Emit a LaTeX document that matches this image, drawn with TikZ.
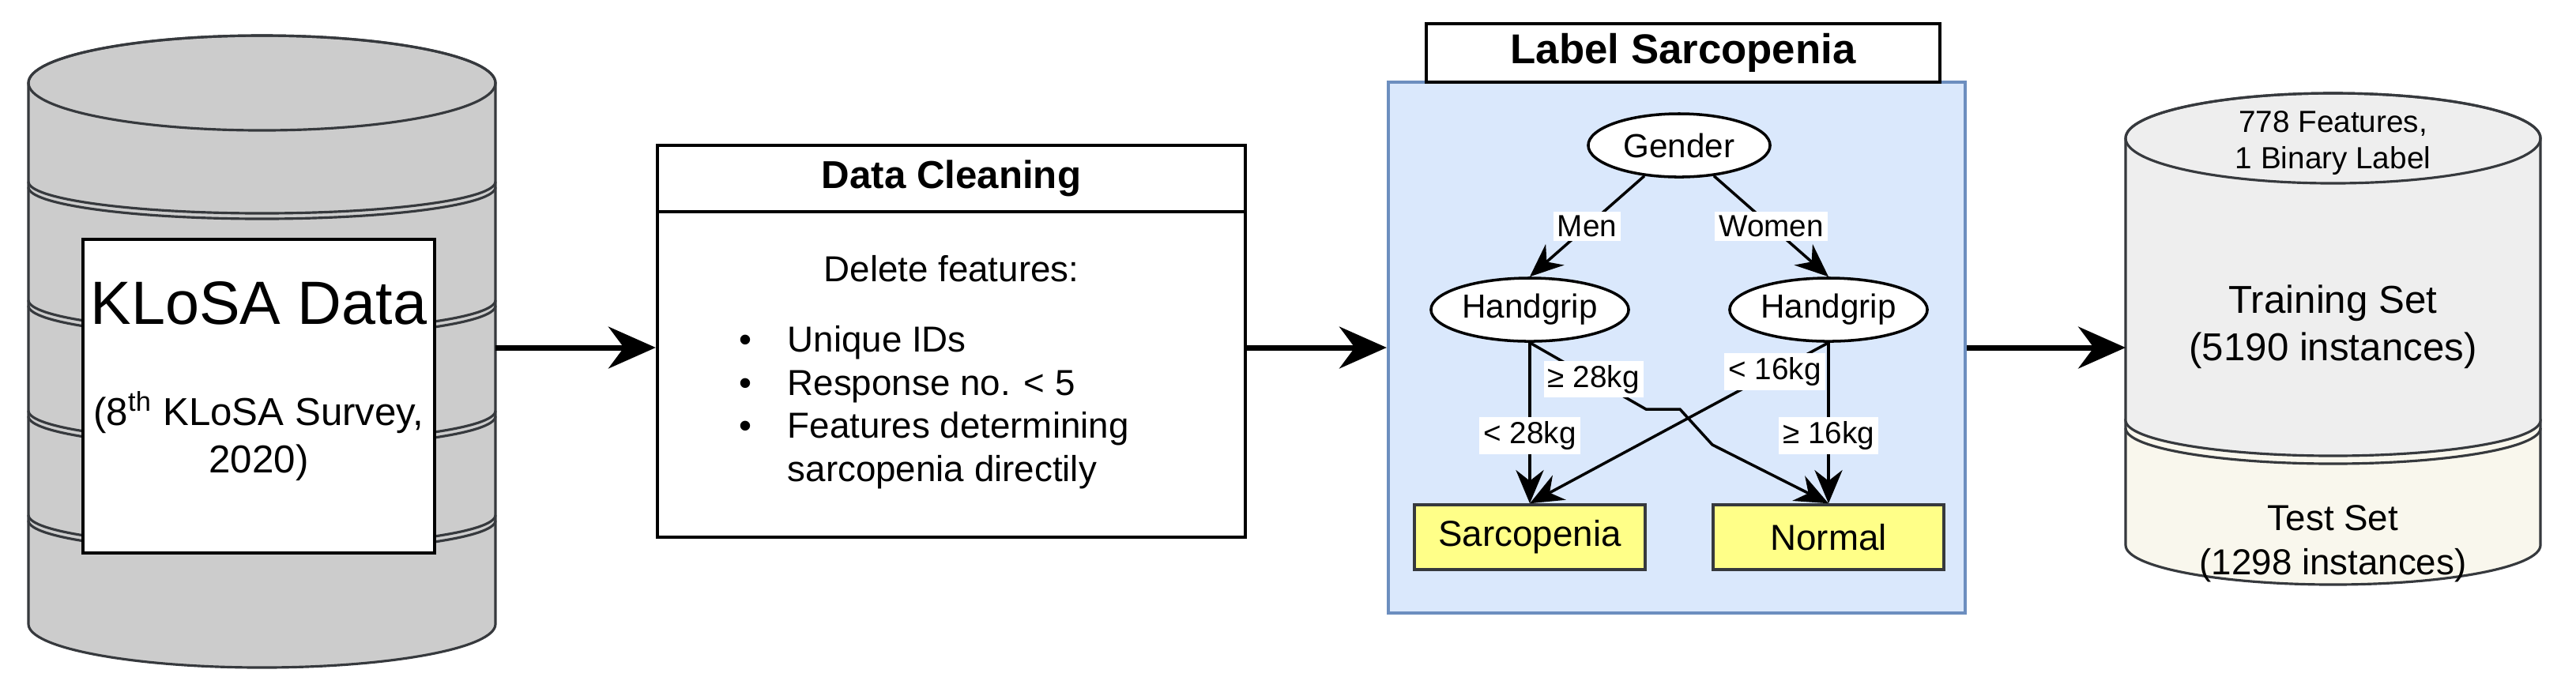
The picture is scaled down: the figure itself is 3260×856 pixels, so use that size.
\documentclass[tikz,border=0pt]{standalone}
\usepackage{fontspec}
\setmainfont{Liberation Sans}
\usetikzlibrary{arrows.meta,calc,shapes,positioning}

\definecolor{edgegray}{HTML}{36393D}
\definecolor{cylgray}{HTML}{CCCCCC}
\definecolor{trainfill}{HTML}{EEEEEE}
\definecolor{testfill}{HTML}{F9F7ED}
\definecolor{labelblue}{HTML}{DAE8FC}
\definecolor{labelline}{HTML}{6C8EBF}
\definecolor{classyellow}{HTML}{FFFF88}

\begin{document}
\begin{tikzpicture}[
    x=0.01cm, y=-0.01cm,
    box/.style={rectangle, draw, line width=1.1pt, fill=white, inner sep=0pt},
    decision/.style={ellipse, draw, line width=1pt, fill=white, minimum width=2.3cm, minimum height=0.8cm, inner sep=0pt, font=\fontsize{12}{14}\selectfont},
    leaf/.style={rectangle, draw=edgegray, line width=1pt, fill=classyellow, minimum width=2.92cm, minimum height=0.82cm, font=\fontsize{13}{15}\selectfont},
    cond/.style={fill=white, inner sep=1.5pt, font=\fontsize{11}{13}\selectfont},
    line/.style={draw, line width=1pt, -{Stealth[length=12pt, width=10pt]}},
    flow/.style={draw, line width=2pt, -{Stealth[length=17pt, width=15pt]}},
    cyl/.style={draw=edgegray, line width=0.9pt}
]
\useasboundingbox (0,0) rectangle (3260,856);

% Source cylinder
\path[cyl, fill=cylgray] (36,105) -- (36,790) arc (180:0:295.5 and 55) -- (627,105) arc (0:-180:295.5 and 60) -- cycle;
\draw[cyl] (331.5,105) ellipse (295.5 and 60);
\foreach \y in {230,380,520,652} {
    \draw[cyl] (36,\y) arc (180:0:295.5 and 40);
    \draw[cyl] (36,\y+7) arc (180:0:295.5 and 40);
}
\coordinate (src) at (627,440);
\node[box, minimum width=4.45cm, minimum height=3.97cm] (klosa) at (327.5,501.5) {};
\node[font=\fontsize{22}{26}\selectfont] (klosatitle) at (327.5,384) {KLoSA Data};
\node[align=center, font=\fontsize{14}{17}\selectfont] (survey) at (327.5,552) {(8\textsuperscript{th} KLoSA Survey,\\2020)};

% Data cleaning
\node[box, minimum width=7.44cm, minimum height=4.96cm] (clean) at (1204,432) {};
\draw[line width=1.1pt] (832,268) -- (1576,268);
\node[font=\bfseries\fontsize{14}{17}\selectfont] (cleantitle) at (1204,226) {Data Cleaning};
\node[font=\fontsize{13}{16}\selectfont] (delete) at (1204,340) {Delete features:};
\node[anchor=north west, align=left, font=\fontsize{13}{15.5}\selectfont, inner sep=0pt] (bullets) at (935,412) {%
    \textbullet\hspace{0.45cm}Unique IDs\\
    \textbullet\hspace{0.45cm}Response no. < 5\\
    \textbullet\hspace{0.45cm}Features determining\\
    \phantom{\textbullet}\hspace{0.45cm}sarcopenia directily};

% Label sarcopenia
\node[rectangle, draw=labelline, line width=1.1pt, fill=labelblue, minimum width=7.3cm, minimum height=6.72cm] (labelbox) at (2122,440) {};
\node[box, minimum width=6.5cm, minimum height=0.74cm, font=\bfseries\fontsize{15}{18}\selectfont] (labeltitle) at (2130,67) {Label Sarcopenia};
\node[decision] (gender) at (2125,184) {Gender};
\node[decision, minimum width=2.5cm] (hgmen) at (1936,392) {Handgrip};
\node[decision, minimum width=2.5cm] (hgwomen) at (2314,392) {Handgrip};
\node[leaf] (sarc) at (1936,680) {Sarcopenia};
\node[leaf] (normal) at (2314,680) {Normal};

\draw[line] (gender) -- node[cond] {Men} (hgmen.north);
\draw[line] (gender) -- node[cond] {Women} (hgwomen.north);
\draw[line] (hgmen.south) -- node[cond, pos=0.58] {< 28kg} (sarc.north);
\draw[line] (hgwomen.south) -- node[cond, pos=0.58] {≥ 16kg} (normal.north);
\draw[line] (hgwomen.south) -- node[cond, pos=0.18] {< 16kg} (sarc.north);
\draw[line] (hgmen.south) -- node[cond, pos=0.55] {≥ 28kg} (2083,518) -- (2126,518) -- (2167,563) -- (normal.north);

% Result cylinder
\path[cyl, fill=testfill] (2690,532) -- (2690,690) arc (180:0:262.5 and 50) -- (3215,532) -- cycle;
\draw[cyl] (2690,542) arc (180:0:262.5 and 45);
\path[cyl, fill=trainfill] (2690,175) -- (2690,532) arc (180:0:262.5 and 45) -- (3215,175) arc (0:-180:262.5 and 57) -- cycle;
\draw[cyl] (2952.5,175) ellipse (262.5 and 57);
\coordinate (dst) at (2690,440);
\node[align=center, font=\fontsize{11}{13}\selectfont] (dims) at (2952.5,181) {778 Features,\\1 Binary Label};
\node[align=center, font=\fontsize{14}{17}\selectfont] (train) at (2952.5,414) {Training Set\\(5190 instances)};
\node[align=center, font=\fontsize{13}{16}\selectfont] (test) at (2952.5,688) {Test Set\\(1298 instances)};

% Flow
\draw[flow] (src) -- (clean.west |- src);
\draw[flow] (clean.east |- src) -- (labelbox.west |- src);
\draw[flow] (labelbox.east |- src) -- (dst);

\end{tikzpicture}
\end{document}
